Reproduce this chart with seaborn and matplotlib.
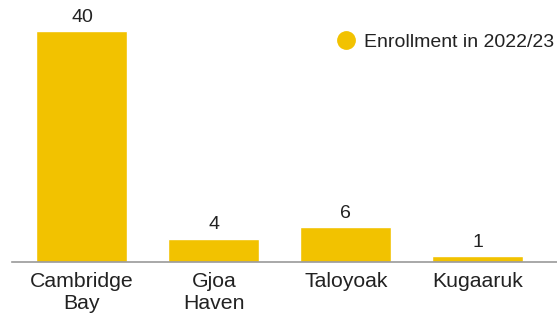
import matplotlib
matplotlib.use("Agg")
import matplotlib.pyplot as plt
from matplotlib.lines import Line2D
import seaborn as sns
import pandas as pd

communities = ["Cambridge\nBay", "Gjoa\nHaven", "Taloyoak", "Kugaaruk"]
enrollment = [40, 4, 6, 1]
series_name = "Enrollment in 2022/23"
bar_color = "#F2C200"

sns.set_style("white")
plt.rcParams["font.family"] = ["Liberation Sans", "DejaVu Sans"]

df = pd.DataFrame({"community": communities, "enrollment": enrollment})

fig = plt.figure(figsize=(5.57, 3.19), dpi=100)
ax = fig.add_axes([12 / 557, 1 - 262 / 319, 545 / 557, 262 / 319])

sns.barplot(data=df, x="community", y="enrollment", color=bar_color,
            saturation=1, width=0.69, ax=ax)

# value labels above bars
for i, v in enumerate(enrollment):
    ax.annotate(str(v), (i, v), xytext=(0, 4), textcoords="offset points",
                ha="center", va="bottom", fontsize=14, color="#222222")

ax.set_xlim(-0.53, 3.6)
ax.set_ylim(0, 45.4)
ax.set_xlabel("")
ax.set_ylabel("")
ax.set_yticks([])
ax.tick_params(axis="x", length=0, labelsize=15.3, pad=7, colors="#222222")
for lab in ax.get_xticklabels():
    lab.set_linespacing(1.22)
for s in ["top", "right", "left"]:
    ax.spines[s].set_visible(False)
ax.spines["bottom"].set_color("#9a9a9a")
ax.spines["bottom"].set_linewidth(1.2)

handle = Line2D([], [], marker="o", linestyle="", markersize=12.5,
                markerfacecolor=bar_color, markeredgecolor=bar_color)
fig.legend([handle], [series_name], loc="center right", frameon=False,
           fontsize=14, handlelength=1, handletextpad=0.43, borderpad=0,
           borderaxespad=0, bbox_to_anchor=(554 / 557, 1 - 42 / 319),
           labelcolor="#222222")

fig.savefig("out.png", dpi=100)
